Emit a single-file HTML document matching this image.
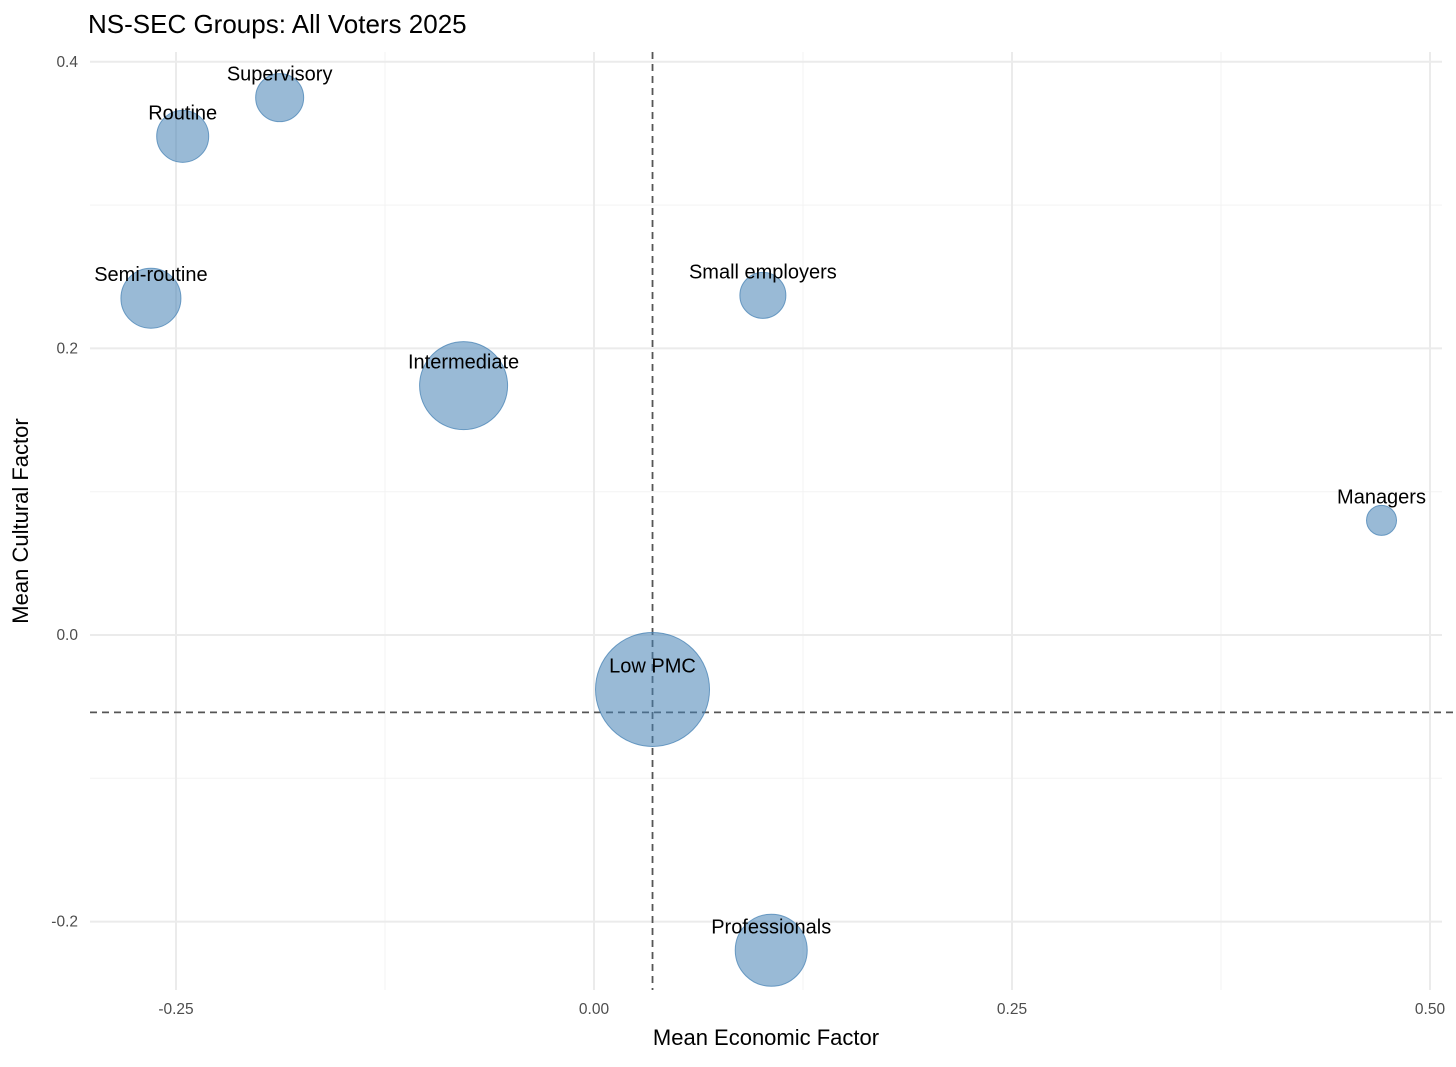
<!DOCTYPE html>
<html><head><meta charset="utf-8">
<style>
html,body{margin:0;padding:0;background:#fff;}
svg{display:block;font-family:"Liberation Sans",Arial,sans-serif;}
</style></head>
<body>
<svg id="chart" width="1456" height="1067" viewBox="0 0 1456 1067" xmlns="http://www.w3.org/2000/svg">
<rect width="1456" height="1067" fill="#fff"/>
<text x="88" y="33" font-size="26" fill="#000">NS-SEC Groups: All Voters 2025</text>
<g id="grid"></g>
<g id="ref"></g>
<g id="marks"></g>
<g id="labels"></g>
<g id="ticks"></g>
<text x="766" y="1045" font-size="22" text-anchor="middle" fill="#000">Mean Economic Factor</text>
<text transform="translate(28,521) rotate(-90)" font-size="22" text-anchor="middle" fill="#000">Mean Cultural Factor</text>
</svg>
<script>
const groups = ["Supervisory","Routine","Semi-routine","Intermediate","Small employers","Managers","Low PMC","Professionals"];
const econ = [-0.188,-0.246,-0.265,-0.078,0.101,0.471,0.035,0.106];
const cult = [0.375,0.348,0.235,0.174,0.237,0.080,-0.038,-0.220];
const sizes = [24,26,30,44,23,15,57,36];
const xTicks = [-0.25,0,0.25,0.5];
const xTickLabels = ["-0.25","0.00","0.25","0.50"];
const yTicks = [-0.2,0,0.2,0.4];
const yTickLabels = ["-0.2","0.0","0.2","0.4"];
const xMinor = [-0.125,0.125,0.375];
const yMinor = [-0.1,0.1,0.3];
const meanEcon = 0.035;
const meanCult = -0.054;

const X0=594, XS=1672, Y0=635, YS=1433;
const L=90, R=1442, T=52, B=990;
const sx=v=>X0+v*XS, sy=v=>Y0-v*YS;
const NS="http://www.w3.org/2000/svg";
function mk(tag,attrs,parent,text){const e=document.createElementNS(NS,tag);for(const k in attrs)e.setAttribute(k,attrs[k]);if(text!==undefined)e.textContent=text;document.getElementById(parent).appendChild(e);return e;}

xMinor.forEach(v=>{const e=mk('line',{x1:sx(v),x2:sx(v),y1:T,y2:B,stroke:'#f3f3f3','stroke-width':1},'grid');

});
yMinor.forEach(v=>{const e=mk('line',{x1:L,x2:R,y1:sy(v),y2:sy(v),stroke:'#f3f3f3','stroke-width':1},'grid');

});
xTicks.forEach((v,i)=>{const e=mk('line',{x1:sx(v),x2:sx(v),y1:T,y2:B,stroke:'#ebebeb','stroke-width':2},'grid');


const t=mk('text',{x:sx(v),y:1014,'font-size':15.5,'text-anchor':'middle',fill:'#4d4d4d'},'ticks',xTickLabels[i]);

});
yTicks.forEach((v,i)=>{const e=mk('line',{x1:L,x2:R,y1:sy(v),y2:sy(v),stroke:'#ebebeb','stroke-width':2},'grid');


const t=mk('text',{x:78,y:sy(v)+5,'font-size':15.5,'text-anchor':'end',fill:'#4d4d4d'},'ticks',yTickLabels[i]);

});

const vl=mk('line',{x1:sx(meanEcon),x2:sx(meanEcon),y1:T,y2:B,stroke:'#555','stroke-width':1.8,'stroke-dasharray':'7,5'},'ref');


const hl=mk('line',{x1:L,x2:R+14,y1:sy(meanCult),y2:sy(meanCult),stroke:'#555','stroke-width':1.8,'stroke-dasharray':'7,5'},'ref');



groups.forEach((g,i)=>{
 const c=mk('circle',{cx:sx(econ[i]),cy:sy(cult[i]),r:sizes[i],fill:'rgba(70,130,180,0.55)',stroke:'rgba(70,130,180,0.75)','stroke-width':1},'marks');
 
 
 const t=mk('text',{x:sx(econ[i]),y:sy(cult[i])-17,'font-size':20,'text-anchor':'middle',fill:'#000'},'labels',g);
 
 
});
</script>
</body></html>
